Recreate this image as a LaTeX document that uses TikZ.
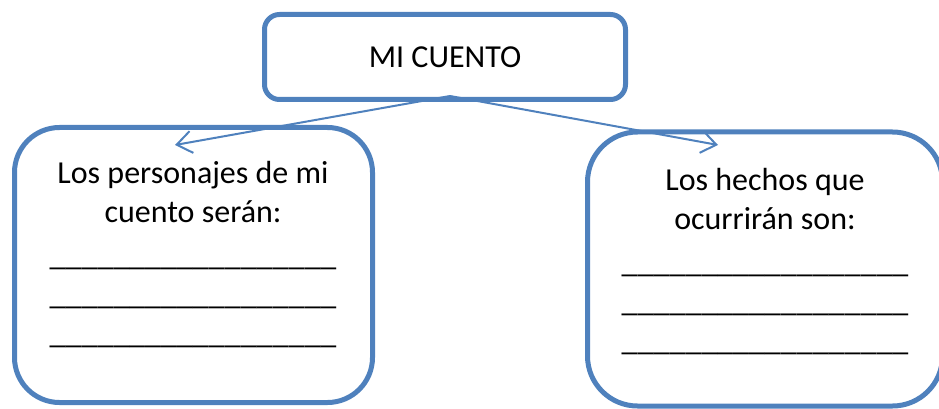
\documentclass[tikz,border=0pt]{standalone}
\usepackage{fontspec}
\setmainfont{Carlito}
\usepackage{xcolor}
\usetikzlibrary{arrows.meta}

\definecolor{boxblue}{HTML}{4F81BD}
\newcommand{\blankline}{\_\_\_\_\_\_\_\_\_\_\_\_\_\_\_\_\_\_}

\begin{document}
\begin{tikzpicture}[x=1pt, y=-1pt,
    box/.style={draw=boxblue, line width=5pt, rectangle, inner sep=0pt},
    link/.style={draw=boxblue, line width=2pt,
        -{Straight Barb[length=15pt, width=22pt, line width=2pt]}},
    txt/.style={font=\fontsize{32}{39}\selectfont, align=center, anchor=base, inner sep=0pt}]
    % --- Page frame ---
    \clip (0,0) rectangle (939,409);

    % --- Title box at the top ---
    \node[box, minimum width=361pt, minimum height=85pt, rounded corners=15pt] (cuento) at (445,57) {};
    \node[txt] (cuentoTxt) at (445,68) {MI CUENTO};

    % --- Left box: characters ---
    % (base anchor = baseline of the last line)
    \node[box, minimum width=358pt, minimum height=275pt, rounded corners=45pt] (personajes) at (193.5,265) {};
    \node[txt] (personajesTxt) at (193,343)
        {Los personajes de mi\\cuento serán:\\[4pt]\blankline\\\blankline\\\blankline};

    % --- Right box: events (runs past the page edge) ---
    \node[box, minimum width=355pt, minimum height=274pt, rounded corners=50pt] (hechos) at (765,269) {};
    \node[txt] (hechosTxt) at (765,350)
        {Los hechos que\\ocurrirán son:\\[4pt]\blankline\\\blankline\\\blankline};

    % --- Arrows from the title ---
    \coordinate (apex) at (450,96);
    \coordinate (tipL) at (175,145);
    \coordinate (tipR) at (718,145);
    \draw[link] (apex) -- (tipL);
    \draw[link] (apex) -- (tipR);
\end{tikzpicture}
\end{document}
